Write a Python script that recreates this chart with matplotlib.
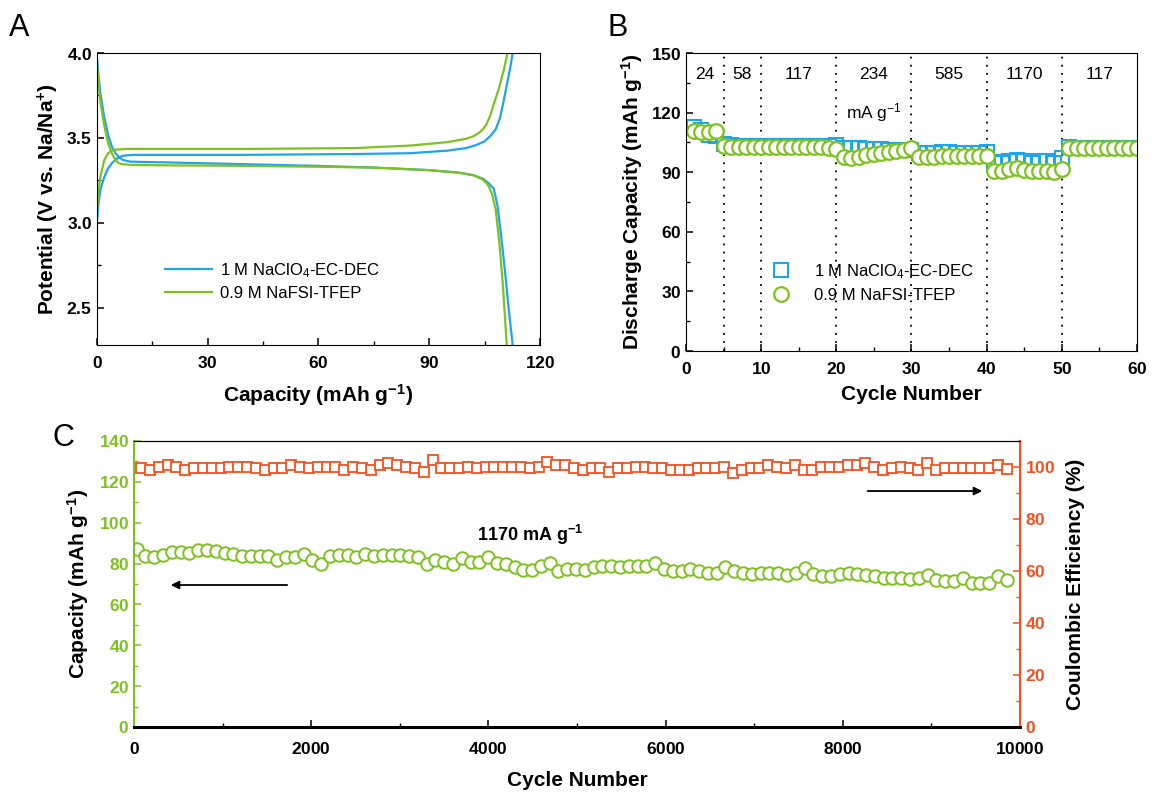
import numpy as np
import matplotlib
matplotlib.use("Agg")
import matplotlib.pyplot as plt
from matplotlib.ticker import MultipleLocator, FuncFormatter

plt.rcParams['font.family'] = ['Liberation Sans', 'DejaVu Sans']
plt.rcParams['mathtext.fontset'] = 'custom'
plt.rcParams['mathtext.rm'] = 'Liberation Sans'
plt.rcParams['mathtext.it'] = 'Liberation Sans'
plt.rcParams['mathtext.bf'] = 'Liberation Sans:bold'

blue = '#1ea5ea'
green = '#7dc21e'
red = '#f4511e'

# ---- panel A: charge / discharge profiles
capA_blue_chg = [0, 0.5, 1, 2, 3, 4, 5.5, 7, 10, 40, 70, 85, 95, 100, 103, 105, 106.5, 108, 109.2, 110, 111, 112, 112.6]
volA_blue_chg = [3.01, 3.13, 3.2, 3.27, 3.32, 3.35, 3.38, 3.395, 3.40, 3.40, 3.405, 3.41, 3.425, 3.44, 3.46, 3.48, 3.51, 3.55, 3.62, 3.70, 3.81, 3.92, 4.0]
capA_green_chg = [0, 0.5, 1, 2, 3, 4.5, 8, 40, 70, 85, 95, 100, 102, 103.5, 104.5, 105.5, 106.5, 107.5, 109, 110.2, 111.2]
volA_green_chg = [3.06, 3.2, 3.28, 3.37, 3.41, 3.43, 3.435, 3.435, 3.44, 3.455, 3.475, 3.495, 3.51, 3.53, 3.55, 3.58, 3.63, 3.70, 3.80, 3.90, 4.0]
capA_blue_dis = [0, 0.5, 1, 2, 3, 4, 5, 6, 7, 9, 20, 40, 60, 75, 90, 98, 102, 104.5, 106, 107.5, 108.5, 109.5, 110.5, 111.5, 112.6]
volA_blue_dis = [3.97, 3.85, 3.75, 3.62, 3.52, 3.45, 3.41, 3.385, 3.37, 3.36, 3.355, 3.345, 3.335, 3.325, 3.31, 3.295, 3.28, 3.26, 3.235, 3.20, 3.10, 2.92, 2.72, 2.50, 2.28]
capA_green_dis = [0, 0.5, 1, 2, 3, 4, 5, 6, 7, 10, 40, 60, 75, 90, 98, 102, 104.5, 106, 107, 108, 109, 110, 111]
volA_green_dis = [3.93, 3.8, 3.7, 3.57, 3.47, 3.41, 3.37, 3.35, 3.345, 3.34, 3.335, 3.33, 3.325, 3.31, 3.295, 3.28, 3.255, 3.22, 3.17, 3.08, 2.88, 2.62, 2.28]

# ---- panel B: rate performance
cycB = list(range(1, 61))
capB_blue = [112.8, 111.5, 108.5, 108, 104, 103.5, 103.3, 103.3, 103.3, 103.3,
             103.3, 103.3, 103.3, 103.3, 103.3, 103.3, 103.3, 103.3, 103.3, 103.5,
             102, 102, 102, 101.5, 101.5, 101.5, 101, 101, 101, 101,
             99.5, 99.5, 99.5, 100, 100, 99.5, 99.5, 99.5, 99.5, 100,
             95, 94.5, 95.5, 96, 95.5, 94.5, 95.5, 95.5, 94.5, 97,
             102.5, 102.3, 102.2, 102.2, 102.2, 102.2, 102.2, 102.2, 102.2, 102.2]
capB_green = [110.5, 110.3, 110.3, 110.8, 103, 102.7, 102.7, 102.7, 102.7, 102.7,
              102.5, 102.5, 102.5, 102.5, 102.5, 102.5, 102.5, 102.5, 102.3, 101.5,
              97.5, 97, 97.5, 98.5, 99, 99.5, 100, 100.5, 101, 102,
              97.5, 97.5, 97.5, 98, 98, 98, 98, 98, 98, 98,
              90.5, 90.5, 91.5, 92, 91, 90.5, 90.5, 90.5, 90, 91.5,
              102.4, 102.4, 102.4, 102.4, 102.4, 102.4, 102.4, 102.4, 102.4, 102.4]
rate_breaks = [5, 10, 20, 30, 40, 50]
rate_labels = ['24', '58', '117', '234', '585', '1170', '117']
rate_pos = [2.5, 7.5, 15, 25, 35, 45, 55]

# ---- panel C: long-term cycling at 1170 mA/g
capC = [87, 83.5, 83, 84, 85.5, 85.5, 85, 86.5, 86.5, 86, 85, 84.5, 83.5, 83.5, 83.5, 83.5, 81.5, 83, 83, 84.5,
        81.5, 80, 83.5, 84, 84, 83, 84.5, 83.5, 84, 84, 84, 83.5, 83, 80, 81.5, 81, 80, 82.5, 81, 81,
        83, 80.5, 80, 78.5, 77, 77, 79, 80.5, 76.5, 77.5, 77.5, 77, 78.5, 79, 79, 78.5, 79, 79, 79, 80.5,
        77.5, 76.5, 76.5, 77.5, 76.5, 75.5, 75.5, 78.5, 76.5, 75.5, 75, 75.5, 75.5, 75.5, 74.5, 75.5, 78, 75, 74, 74,
        75, 75.5, 75, 74.5, 74, 73, 73, 73, 72.5, 73, 74.5, 72, 71.5, 71.5, 73, 70.5, 70.5, 70.5, 74, 72]
ceC = [99.5, 98.8, 100.1, 100.8, 100.1, 98.8, 99.5, 99.5, 99.5, 99.5, 100.1, 100.1, 100.1, 99.5, 98.8, 99.5, 99.5, 100.8, 100.1, 99.5,
       100.1, 100.1, 100.1, 98.8, 100.1, 99.5, 98.8, 100.8, 101.7, 100.8, 100.1, 99.5, 98.2, 102.5, 99.5, 99.5, 99.5, 100.1, 99.5, 100.1,
       100.1, 100.1, 100.1, 100.1, 99.5, 100.1, 102.1, 100.8, 100.8, 99.5, 98.8, 99.5, 99.5, 98.2, 99.5, 99.5,
       100.1, 100.1, 99.5, 99.5, 98.8, 98.8, 98.8, 99.5, 99.5, 99.5, 100.1, 97.5, 98.8, 99.5, 99.5, 100.8, 100.1, 99.5, 100.8, 98.8,
       98.8, 100.1, 100.1, 100.1, 100.8, 100.8, 101.4, 100.1, 98.8, 99.5, 100.1, 99.5, 98.8, 101.7, 98.8, 99.5, 99.5, 99.5, 99.5, 99.5,
       99.5, 100.8, 99.1]
cycC_cap = np.linspace(30, 9850, len(capC))
cycC_ce = np.linspace(80, 9850, len(ceC))

fig = plt.figure(figsize=(11.57, 7.96), dpi=100)

tick_kw = dict(direction='in', labelsize=12.5, width=1.1)
minor_kw = dict(direction='in', width=1.0, length=3)
lab_kw = dict(fontsize=15, fontweight='bold')
inv = r'$^{\mathbf{-1}}$'
inv_reg = r'$^{\mathrm{-1}}$'

# bold tick labels drawn through mathtext
bold_int = FuncFormatter(lambda v, p: r'$\mathbf{%d}$' % round(v))
bold_1f = FuncFormatter(lambda v, p: r'$\mathbf{%.1f}$' % v)

# ---------------- A
axA = fig.add_axes([0.0838, 0.5666, 0.3829, 0.3668])
axA.plot(capA_blue_chg, volA_blue_chg, color=blue, lw=1.6, label=r'1 M NaClO$_{\mathrm{4}}$-EC-DEC')
axA.plot(capA_blue_dis, volA_blue_dis, color=blue, lw=1.6)
axA.plot(capA_green_chg, volA_green_chg, color=green, lw=1.6, label='0.9 M NaFSI-TFEP')
axA.plot(capA_green_dis, volA_green_dis, color=green, lw=1.6)
axA.set_xlim(0, 120)
axA.set_ylim(2.28, 4.0)
axA.xaxis.set_major_locator(MultipleLocator(30))
axA.xaxis.set_minor_locator(MultipleLocator(15))
axA.yaxis.set_major_locator(MultipleLocator(0.5))
axA.yaxis.set_minor_locator(MultipleLocator(0.25))
axA.xaxis.set_major_formatter(bold_int)
axA.yaxis.set_major_formatter(bold_1f)
axA.tick_params(which='major', length=5, **tick_kw)
axA.tick_params(which='minor', **minor_kw)
axA.tick_params(axis='x', which='major', pad=7)
axA.set_xlabel('Capacity (mAh g' + inv + ')', labelpad=8, **lab_kw)
axA.set_ylabel(r'Potential (V vs. Na/Na$^{\mathbf{+}}$)', **lab_kw)
axA.legend(loc='center left', bbox_to_anchor=(0.12, 0.22), frameon=False, fontsize=12,
           handlelength=2.8, handletextpad=0.5, labelspacing=0.35)
fig.text(0.008, 0.955, 'A', fontsize=22)

# ---------------- B
axB = fig.add_axes([0.5929, 0.559, 0.3898, 0.3744])
for xb in rate_breaks:
    axB.axvline(xb, color='black', ls=(0, (1, 3.5)), lw=1.3)
axB.plot(cycB, capB_blue, 's', ms=9.5, mfc='none', mec=blue, mew=1.5, label=r'1 M NaClO$_{\mathrm{4}}$-EC-DEC')
axB.plot(cycB, capB_green, 'o', ms=10.5, mfc='white', mec=green, mew=1.6, label='0.9 M NaFSI-TFEP')
for lab, xp in zip(rate_labels, rate_pos):
    axB.text(xp, 139, lab, ha='center', va='center', fontsize=12.5)
axB.text(25, 120, 'mA g' + inv_reg, ha='center', va='center', fontsize=12.5)
axB.set_xlim(0, 60)
axB.set_ylim(0, 150)
axB.xaxis.set_major_locator(MultipleLocator(10))
axB.xaxis.set_minor_locator(MultipleLocator(5))
axB.yaxis.set_major_locator(MultipleLocator(30))
axB.yaxis.set_minor_locator(MultipleLocator(15))
axB.xaxis.set_major_formatter(bold_int)
axB.yaxis.set_major_formatter(bold_int)
axB.tick_params(which='major', length=5, **tick_kw)
axB.tick_params(which='minor', **minor_kw)
axB.tick_params(axis='x', which='major', pad=7)
axB.set_xlabel('Cycle Number', labelpad=6, **lab_kw)
axB.set_ylabel('Discharge Capacity (mAh g' + inv + ')', labelpad=4, **lab_kw)
axB.legend(loc='center left', bbox_to_anchor=(0.14, 0.23), frameon=False, fontsize=12,
           handletextpad=1.0, labelspacing=0.45)
fig.text(0.525, 0.955, 'B', fontsize=22)

# ---------------- C
axC = fig.add_axes([0.1158, 0.0867, 0.7658, 0.3593])
axC2 = axC.twinx()
axC.plot(cycC_cap, capC, 'o', ms=9, mfc='white', mec=green, mew=1.4, zorder=3)
axC2.plot(cycC_ce, ceC, 's', ms=7.5, mfc='white', mec=red, mew=1.3)
axC.set_xlim(0, 10000)
axC.set_ylim(0, 140)
axC2.set_ylim(0, 110)
axC.xaxis.set_major_locator(MultipleLocator(2000))
axC.xaxis.set_minor_locator(MultipleLocator(1000))
axC.yaxis.set_major_locator(MultipleLocator(20))
axC.yaxis.set_minor_locator(MultipleLocator(10))
axC2.yaxis.set_major_locator(MultipleLocator(20))
axC2.yaxis.set_minor_locator(MultipleLocator(10))
axC.xaxis.set_major_formatter(bold_int)
axC.yaxis.set_major_formatter(bold_int)
axC2.yaxis.set_major_formatter(bold_int)
axC.tick_params(which='major', length=5, **tick_kw)
axC.tick_params(which='minor', **minor_kw)
axC2.tick_params(which='major', length=5, **tick_kw)
axC2.tick_params(which='minor', **minor_kw)
axC.tick_params(axis='x', which='major', pad=10)
axC.tick_params(axis='y', which='both', colors=green)
axC2.tick_params(axis='y', which='both', colors=red)
axC2.spines['left'].set_color(green)
axC2.spines['right'].set_color(red)
axC.spines['left'].set_color(green)
axC.spines['left'].set_linewidth(1.5)
axC2.spines['right'].set_linewidth(1.5)
axC2.spines['bottom'].set_linewidth(2.2)
axC.set_xlabel('Cycle Number', labelpad=10, **lab_kw)
axC.set_ylabel('Capacity (mAh g' + inv + ')', labelpad=6, **lab_kw)
axC2.set_ylabel('Coulombic Efficiency (%)', labelpad=8, **lab_kw)
axC.annotate('', xy=(384, 69.5), xytext=(1760, 69.5),
             arrowprops=dict(arrowstyle='-|>', color='black', lw=1.3, mutation_scale=12))
axC.annotate('', xy=(9605, 115.5), xytext=(8250, 115.5),
             arrowprops=dict(arrowstyle='-|>', color='black', lw=1.3, mutation_scale=12))
axC.text(4470, 94, '1170 mA g' + inv, ha='center', va='center', fontsize=13, fontweight='bold')
fig.text(0.045, 0.44, 'C', fontsize=22)

fig.savefig('out.png', dpi=100)
